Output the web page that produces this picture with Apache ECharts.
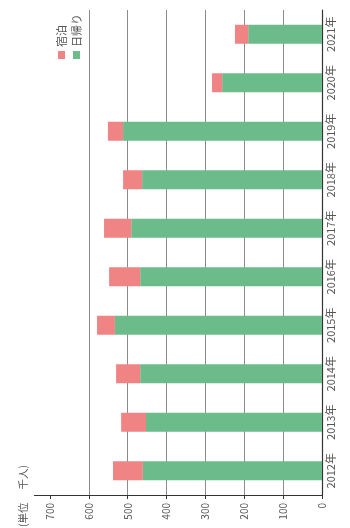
<!DOCTYPE html>
<html>
<head>
<meta charset="utf-8">
<script src="https://cdn.jsdelivr.net/npm/echarts@6/dist/echarts.min.js"></script>
<style>
  html, body { margin: 0; padding: 0; background: #fff; }
  #main { width: 350px; height: 528px; }
</style>
</head>
<body>
<div id="main"></div>
<script>
// 年（カテゴリ）
const years = ['2012年', '2013年', '2014年', '2015年', '2016年', '2017年', '2018年', '2019年', '2020年', '2021年']
// 日帰り（千人）
const dayTrip = [461, 453, 468, 533, 468, 491, 463, 512, 257, 190]
// 宿泊（千人）
const overnight = [77, 64, 62, 46, 80, 70, 49, 39, 26, 34]
// 目盛り
const ticks = [0, 100, 200, 300, 400, 500, 600, 700]

const green = '#6cbb8b'
const pink = '#f08484'
const font = '"Noto Sans CJK JP", "Noto Sans", sans-serif'

var myChart = echarts.init(document.getElementById('main'))

var option = {
  animation: false,
  textStyle: { fontFamily: font },
  grid: { left: 34.5, right: 28, top: 10, bottom: 33 },
  xAxis: {
    type: 'value',
    inverse: true,
    min: 0,
    max: 740,
    interval: 100,
    axisLine: { show: true, lineStyle: { color: '#333', width: 1.2 } },
    axisTick: { show: true, length: 4, customValues: ticks, lineStyle: { color: '#333' } },
    axisLabel: { rotate: 90, fontSize: 10, color: '#555', margin: 8, customValues: ticks },
    splitLine: { show: true, showMaxLine: false, lineStyle: { color: '#8c8c8c', width: 1 } }
  },
  yAxis: {
    type: 'category',
    position: 'right',
    data: years,
    axisLine: { show: true, lineStyle: { color: '#333', width: 1.2 } },
    axisTick: { show: false },
    axisLabel: { rotate: 90, fontSize: 11, color: '#555', margin: 3 }
  },
  series: [
    {
      name: '日帰り',
      type: 'bar',
      stack: 'total',
      barWidth: 19,
      itemStyle: { color: green },
      data: dayTrip
    },
    {
      name: '宿泊',
      type: 'bar',
      stack: 'total',
      barWidth: 19,
      itemStyle: { color: pink },
      data: overnight
    }
  ],
  // 凡例と単位（縦書き回転のため graphic で描く）
  graphic: [
    { type: 'rect', shape: { x: 58, y: 51, width: 7, height: 8 }, style: { fill: pink } },
    { type: 'text', x: 61.5, y: 47, rotation: Math.PI / 2,
      style: { text: '宿泊', font: '11px ' + font, fill: '#555', textAlign: 'left', textVerticalAlign: 'middle' } },
    { type: 'rect', shape: { x: 73, y: 51, width: 7, height: 8 }, style: { fill: green } },
    { type: 'text', x: 76.5, y: 47, rotation: Math.PI / 2,
      style: { text: '日帰り', font: '11px ' + font, fill: '#555', textAlign: 'left', textVerticalAlign: 'middle' } },
    { type: 'text', x: 23.5, y: 527, rotation: Math.PI / 2,
      style: { text: '(単位　 千人)', font: '10.5px ' + font, fill: '#555', textAlign: 'left', textVerticalAlign: 'middle' } }
  ]
}

myChart.setOption(option)
</script>
</body>
</html>
